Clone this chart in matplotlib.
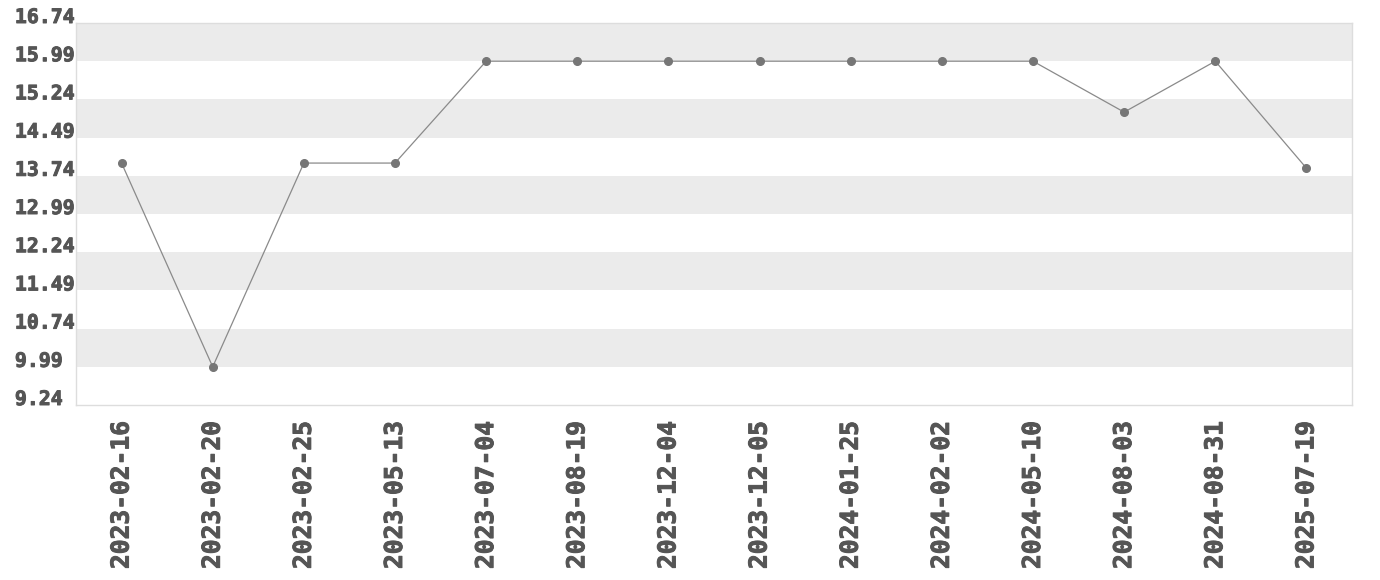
import numpy as np
import matplotlib
matplotlib.use('Agg')
import matplotlib.pyplot as plt
import matplotlib.patheffects as pe

dates = ['2023-02-16', '2023-02-20', '2023-02-25', '2023-05-13', '2023-07-04',
         '2023-08-19', '2023-12-04', '2023-12-05', '2024-01-25', '2024-02-02',
         '2024-05-10', '2024-08-03', '2024-08-31', '2025-07-19']
values = [13.99, 9.99, 13.99, 13.99, 15.99, 15.99, 15.99, 15.99, 15.99,
          15.99, 15.99, 14.99, 15.99, 13.89]
yticks = [9.24, 9.99, 10.74, 11.49, 12.24, 12.99, 13.74, 14.49, 15.24, 15.99, 16.74]

text_color = '#555555'
band_color = '#ebebeb'
mono = 'DejaVu Sans Mono'
heavy = [pe.withStroke(linewidth=0.7, foreground=text_color)]

fig = plt.figure(figsize=(13.8, 5.8), dpi=100)
ax = fig.add_axes([76/1380, 1-405/580, (1352-76)/1380, (405-23)/580])

x = np.arange(len(dates))
# grey bands, every other interval starting from the top
for i in range(len(yticks)-1, 0, -2):
    ax.axhspan(yticks[i-1], yticks[i], color=band_color, lw=0, zorder=0)

ax.plot(x, values, color='#8a8a8a', lw=0.9, zorder=2)
ax.plot(x, values, 'o', color='#767676', ms=5.5, zorder=3)

ax.set_xlim(-0.5, len(dates)-0.5)
ax.set_ylim(yticks[0], yticks[-1])
ax.set_yticks(yticks)
ax.set_yticklabels(['%.2f' % v for v in yticks], fontsize=14.3, fontweight='bold',
                   family=mono, color=text_color)
for lab in ax.get_yticklabels():
    lab.set_horizontalalignment('left')
    lab.set_verticalalignment('baseline')
    lab.set_path_effects(heavy)
ax.tick_params(axis='y', length=0, pad=44)

ax.set_xticks(x)
ax.set_xticklabels(dates, rotation=90, fontsize=17.7, fontweight='bold',
                   family=mono, color=text_color)
for lab in ax.get_xticklabels():
    lab.set_path_effects(heavy)
ax.tick_params(axis='x', length=0, pad=11)

for s in ax.spines.values():
    s.set_color('#dddddd')
    s.set_linewidth(1)

fig.savefig('out.png', dpi=100)
